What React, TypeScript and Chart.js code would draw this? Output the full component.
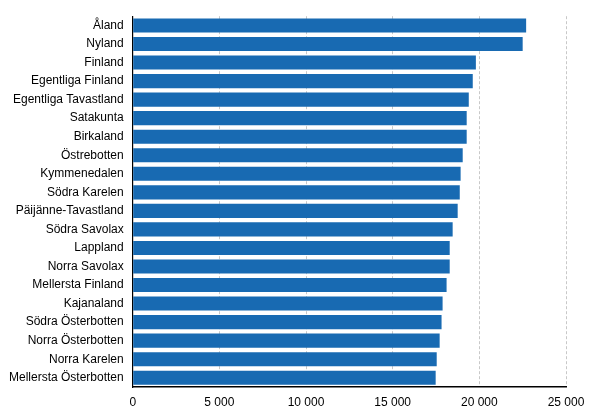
import React, { useEffect, useRef } from "react";
import { Chart, registerables } from "chart.js";

Chart.register(...registerables);

const categories = [
  "Åland",
  "Nyland",
  "Finland",
  "Egentliga Finland",
  "Egentliga Tavastland",
  "Satakunta",
  "Birkaland",
  "Östrebotten",
  "Kymmenedalen",
  "Södra Karelen",
  "Päijänne-Tavastland",
  "Södra Savolax",
  "Lappland",
  "Norra Savolax",
  "Mellersta Finland",
  "Kajanaland",
  "Södra Österbotten",
  "Norra Österbotten",
  "Norra Karelen",
  "Mellersta Österbotten",
];

const values = [
  22700, 22500, 19800, 19620, 19390, 19270, 19270, 19040, 18920, 18870,
  18750, 18460, 18290, 18290, 18110, 17880, 17820, 17710, 17540, 17480,
];

const xTicks = [0, 5000, 10000, 15000, 20000, 25000];

function fmt(v: number): string {
  return String(v).replace(/\B(?=(\d{3})+(?!\d))/g, " ");
}

export default function App() {
  const ref = useRef<HTMLCanvasElement | null>(null);
  useEffect(() => {
    document.body.style.margin = "0";
    if (!ref.current) return;
    const chart = new Chart(ref.current, {
      type: "bar",
      data: {
        labels: categories,
        datasets: [
          {
            data: values,
            backgroundColor: "#186ab2",
            borderWidth: 0,
            barPercentage: 0.76,
            categoryPercentage: 1,
          },
        ],
      },
      options: {
        indexAxis: "y",
        animation: false,
        responsive: false,
        maintainAspectRatio: false,
        layout: { padding: { top: 14, right: 39, bottom: -3, left: 0 } },
        plugins: { legend: { display: false }, tooltip: { enabled: false } },
        scales: {
          x: {
            min: 0,
            max: 25000,
            afterBuildTicks: (axis: any) => {
              axis.ticks = xTicks.map((v) => ({ value: v }));
            },
            ticks: {
              color: "#000",
              font: { family: "Liberation Sans, Arial", size: 12, lineHeight: 1.0 },
              padding: 10,
              maxRotation: 0,
              callback: (v: any) => fmt(Number(v)),
            },
            grid: {
              color: "#c8c8c8",
              drawTicks: false,
              lineWidth: 1,
            },
            border: { display: true, color: "#000", width: 1.5, dash: [3, 2] },
          },
          y: {
            ticks: {
              color: "#000",
              font: { family: "Liberation Sans, Arial", size: 12 },
              padding: 9,
              autoSkip: false,
            },
            grid: { display: false, drawTicks: false },
            border: { display: true, color: "#000", width: 1.2 },
          },
        },
      },
    });
    return () => chart.destroy();
  }, []);
  return (
    <div style={{ width: 605, height: 416 }}>
      <canvas ref={ref} width={605} height={416} style={{ display: "block" }} />
    </div>
  );
}
